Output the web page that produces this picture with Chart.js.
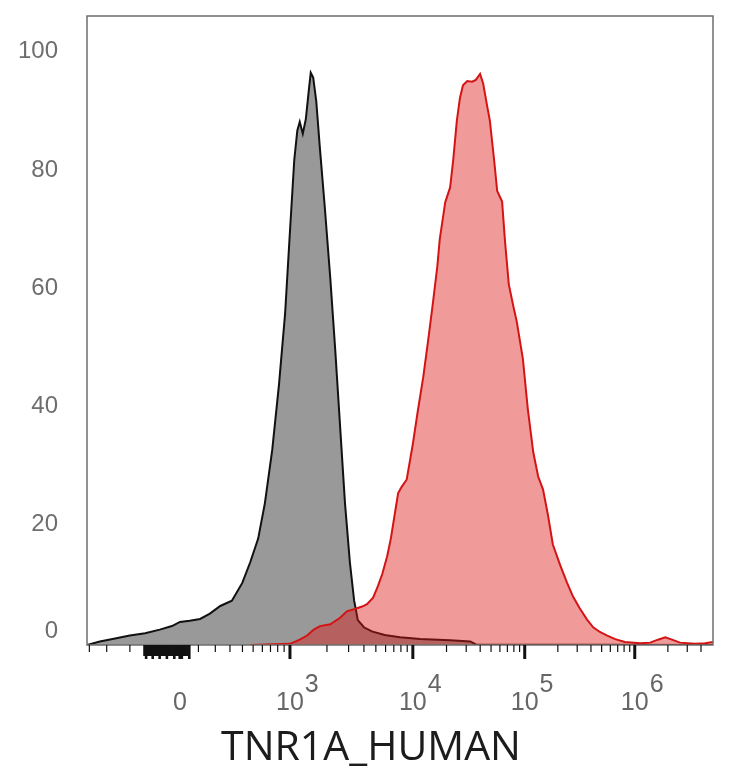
<!DOCTYPE html>
<html>
<head>
<meta charset="utf-8">
<script src="https://cdn.jsdelivr.net/npm/chart.js@4.4.1/dist/chart.umd.min.js"></script>
<style>
  html, body { margin: 0; padding: 0; background: #fff; }
  #wrap { width: 734px; height: 768px; position: relative; }
</style>
</head>
<body>
<div id="wrap"><canvas id="hist"></canvas></div>
<script>
// ---- Histogram data (display channel 0..1024, % of max) ----
const greyCh = [0, 21, 46, 70, 95, 119, 139, 152, 168, 185, 201, 218, 237, 254, 267, 280, 291, 303, 314, 324,
  332, 339, 344, 348, 353, 358, 363, 366, 370, 375, 381, 389, 398, 406, 414, 422, 430, 437, 443, 453,
  466, 487, 512, 545, 594, 627, 636, 1024];
const greyCount = [0, 0.6, 1.1, 1.6, 2.0, 2.6, 3.2, 3.9, 4.1, 4.4, 5.3, 6.6, 7.5, 10.5, 14, 18, 24, 33, 44, 56,
  70, 82, 87, 88.5, 86.5, 89, 94, 96.8, 96, 92, 84, 74, 62, 50, 37, 24, 14, 7.5, 4.2, 3.0,
  2.3, 1.7, 1.3, 1.0, 0.8, 0.6, 0.1, 0];

const redCh = [267, 332, 348, 360, 371, 381, 398, 414, 425, 438, 450, 458, 468, 476, 483, 491, 497, 504, 509, 515,
  523, 533, 541, 550, 558, 566, 573, 577, 586, 594, 599, 605, 610, 615, 622, 630, 636, 643, 648, 654,
  659, 666, 671, 679, 684, 690, 697, 703, 713, 721, 730, 738, 746, 754, 762, 774, 785, 795, 806, 818,
  828, 839, 851, 864, 880, 905, 921, 934, 946, 957, 970, 995, 1011, 1024];
const redCount = [0, 0.2, 0.9, 1.6, 2.6, 3.2, 3.5, 4.6, 5.7, 6.1, 6.5, 6.9, 8.0, 10, 12, 15, 18, 22.5, 25.7, 26.8,
  28, 34, 39.5, 45.3, 51.5, 58, 64, 68.6, 74.9, 77.4, 82, 88.7, 92.5, 94.7, 95.4, 95.3, 95.6, 96.6, 95, 91.5,
  88.7, 82, 76.8, 75, 68, 61, 57.5, 54.7, 48.4, 40, 32.6, 28.5, 26.3, 22, 17, 13.5, 10.6, 8.2, 6.2, 4.3,
  3.0, 2.2, 1.6, 1.0, 0.5, 0.3, 0.4, 0.9, 1.3, 0.9, 0.4, 0.2, 0.3, 0.5];

// ---- Axis ticks ----
const yTicks = [0, 20, 40, 60, 80, 100];
const xMajorValues = [0, 1e3, 1e4, 1e5, 1e6];
const xMajorChannels = [152, 332, 533, 716, 896];
const xMajorBase = ['0', '10', '10', '10', '10'];
const xMajorExp = ['', '3', '4', '5', '6'];
const xNegMinor = [-700, -500, -300];
const xLowMinor = [100, 200, 300, 400, 500, 600, 700, 800, 900];
const decadeSteps = [2, 3, 4, 5, 6, 7, 8, 9];

const asinhWidth = 310;

// biexponential-ish display transform: value -> channel
function toChannel(v) {
  const a = Math.abs(v), s = v < 0 ? -1 : 1;
  if (a < 1000) {
    return xMajorChannels[0] + s * (xMajorChannels[1] - xMajorChannels[0]) *
      Math.asinh(a / asinhWidth) / Math.asinh(1000 / asinhWidth);
  }
  const d = Math.log10(a);
  const k = Math.min(Math.floor(d), 5);
  const lo = xMajorChannels[k - 2], hi = xMajorChannels[k - 1];
  return lo + (hi - lo) * (d - k);
}

// minor tick values
const minorTicks = xNegMinor.concat(xLowMinor);
[1e3, 1e4, 1e5].forEach((dec) => decadeSteps.forEach((m) => minorTicks.push(m * dec)));
[2, 3, 4].forEach((m) => minorTicks.push(m * 1e6));
const clusterTicks = [];
for (let v = -200; v <= 50; v += 10) clusterTicks.push(v);

const axisDecor = {
  id: 'axisDecor',
  afterDraw(chart) {
    const { ctx, chartArea: ca, scales } = chart;
    const x = scales.x, y = scales.y;
    ctx.save();

    // plot frame
    ctx.strokeStyle = '#6e6e6e';
    ctx.lineWidth = 1.5;
    ctx.strokeRect(ca.left, ca.top, ca.right - ca.left, ca.bottom - ca.top);

    // x ticks
    const tick = (v, len, w) => {
      const px = x.getPixelForValue(toChannel(v));
      if (px < ca.left - 0.5 || px > ca.right + 0.5) return;
      ctx.beginPath();
      ctx.lineWidth = w;
      ctx.moveTo(px, ca.bottom);
      ctx.lineTo(px, ca.bottom + len);
      ctx.stroke();
    };
    ctx.strokeStyle = '#111';
    minorTicks.forEach((v) => tick(v, 7, 1.2));
    clusterTicks.forEach((v, i) => tick(v, i % 4 === 1 ? 14 : 11, 2.6));
    xMajorValues.forEach((v) => tick(v, 14, 3));

    // x labels with superscript exponents
    ctx.fillStyle = '#666';
    ctx.font = '25px "Liberation Sans", Arial, sans-serif';
    ctx.textBaseline = 'alphabetic';
    xMajorValues.forEach((v, i) => {
      const px = x.getPixelForValue(toChannel(v));
      ctx.textAlign = 'center';
      ctx.fillText(xMajorBase[i], px, ca.bottom + 65);
      if (xMajorExp[i]) {
        const w = ctx.measureText(xMajorBase[i]).width;
        ctx.textAlign = 'left';
        ctx.fillText(xMajorExp[i], px + w / 2 + 1, ca.bottom + 47);
      }
    });

    // y labels
    ctx.font = '24px "Liberation Sans", Arial, sans-serif';
    ctx.fillStyle = '#6e6e6e';
    ctx.textAlign = 'right';
    ctx.textBaseline = 'middle';
    yTicks.forEach((v) => {
      let py = y.getPixelForValue(v);
      if (v === 0) py -= 12;
      ctx.fillText(String(v), ca.left - 29, py - 2);
    });

    // axis title
    ctx.fillStyle = '#1c1c1c';
    ctx.font = '41px "Open Sans", "Noto Sans", sans-serif';
    ctx.textAlign = 'center';
    ctx.textBaseline = 'alphabetic';
    ctx.fillText('TNR1A_HUMAN', chart.width / 2 + 4, 760);

    ctx.restore();
  }
};

const toPoints = (xs, ys) => xs.map((c, i) => ({ x: c, y: ys[i] }));

new Chart(document.getElementById('hist'), {
  type: 'line',
  data: {
    datasets: [
      {
        label: 'TNR1A_HUMAN',
        data: toPoints(redCh, redCount),
        borderColor: '#d41414',
        backgroundColor: 'rgba(222, 20, 20, 0.43)',
        borderWidth: 2,
        fill: 'origin',
        pointRadius: 0,
        tension: 0,
      },
      {
        label: 'Isotype control',
        data: toPoints(greyCh, greyCount),
        borderColor: '#111111',
        backgroundColor: '#999999',
        borderWidth: 2,
        fill: 'origin',
        pointRadius: 0,
        tension: 0,
      },
    ],
  },
  options: {
    responsive: true,
    maintainAspectRatio: false,
    animation: false,
    layout: { padding: { top: 16, right: 21, left: 0, bottom: 0 } },
    plugins: {
      legend: { display: false },
      tooltip: { enabled: false },
    },
    scales: {
      x: {
        type: 'linear',
        min: 0,
        max: 1024,
        grid: { display: false },
        border: { display: false },
        ticks: { display: false },
        afterFit: (s) => { s.height = 123; },
      },
      y: {
        min: 0,
        max: 106.4,
        grid: { display: false },
        border: { display: false },
        ticks: { display: false },
        afterBuildTicks: (s) => { s.ticks = yTicks.map((v) => ({ value: v })); },
        afterFit: (s) => { s.width = 87; },
      },
    },
  },
  plugins: [axisDecor],
});
</script>
</body>
</html>
